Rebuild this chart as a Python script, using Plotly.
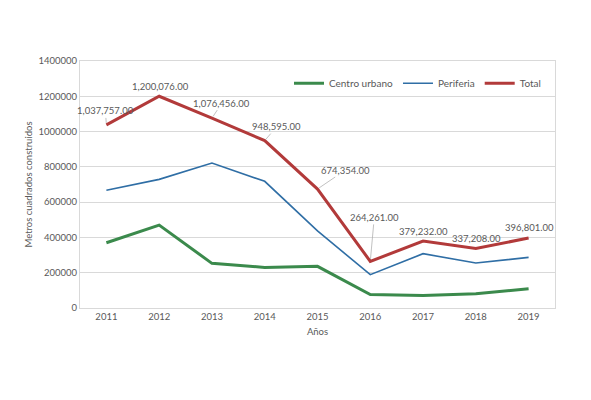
import plotly.graph_objects as go

## Data
years = ["2011", "2012", "2013", "2014", "2015", "2016", "2017", "2018", "2019"]
centro_urbano = [370000, 470000, 253000, 230000, 236000, 76000, 71000, 81000, 109000]
periferia = [667000, 729000, 822000, 718000, 437000, 189000, 308000, 255000, 287000]
total = [1037757, 1200076, 1076456, 948595, 674354, 264261, 379232, 337208, 396801]
y_ticks = [0, 200000, 400000, 600000, 800000, 1000000, 1200000, 1400000]

GREY = "#595959"
FONT = "Lato"

fig = go.Figure()
fig.add_trace(go.Scatter(x=years, y=centro_urbano, name="Centro urbano", mode="lines",
                         line=dict(color="#3B8A4C", width=3)))
fig.add_trace(go.Scatter(x=years, y=periferia, name="Periferia", mode="lines",
                         line=dict(color="#2F6EA5", width=1.6)))
fig.add_trace(go.Scatter(x=years, y=total, name="Total", mode="lines",
                         line=dict(color="#B23A3A", width=3)))

# data labels on Total (offsets in pixels, leader line where Excel drew one)
label_offsets = [(-1, -14, True), (1, -10, False), (10, -15, True), (12, -14, True),
                 (28, -19, True), (4, -44, True), (0, -10, False), (1, -10, False), (1, -10, False)]
for i, (val, (dx, dy, lead)) in enumerate(zip(total, label_offsets)):
    fig.add_annotation(x=i, y=val, xref="x", yref="y", text=f"{val:,.2f}", showarrow=True,
                       ax=dx, ay=dy, arrowhead=0, arrowwidth=0.7,
                       arrowcolor="#A6A6A6" if lead else "rgba(0,0,0,0)",
                       standoff=2, font=dict(family=FONT, size=9.5, color=GREY))

fig.update_layout(
    width=591, height=400,
    margin=dict(l=72, r=44, t=53, b=100),
    paper_bgcolor="white", plot_bgcolor="white",
    font=dict(family=FONT, size=9.5, color=GREY),
    showlegend=True,
    legend=dict(orientation="h", x=0.44, y=0.91, xanchor="left", yanchor="middle",
                font=dict(family=FONT, size=10, color=GREY), entrywidth=0,
                bgcolor="rgba(0,0,0,0)"),
)
fig.update_xaxes(type="category",
                 title=dict(text="Años", standoff=6, font=dict(size=9.5, color=GREY)),
                 range=[-0.5, 8.5], showgrid=False, showline=True, mirror=True,
                 linecolor="#D9D9D9", linewidth=1, ticks="", tickfont=dict(size=9.5, color=GREY))
fig.update_yaxes(title=dict(text="Metros cuadrados construidos", standoff=4,
                            font=dict(size=9.5, color=GREY)),
                 range=[0, 1400000], tickvals=y_ticks, ticktext=[str(v) for v in y_ticks],
                 showgrid=True, gridcolor="#D9D9D9", gridwidth=1, zeroline=False,
                 showline=True, mirror=True, linecolor="#D9D9D9", linewidth=1,
                 ticks="", tickfont=dict(size=9.5, color=GREY))

fig.write_html("out.html")
